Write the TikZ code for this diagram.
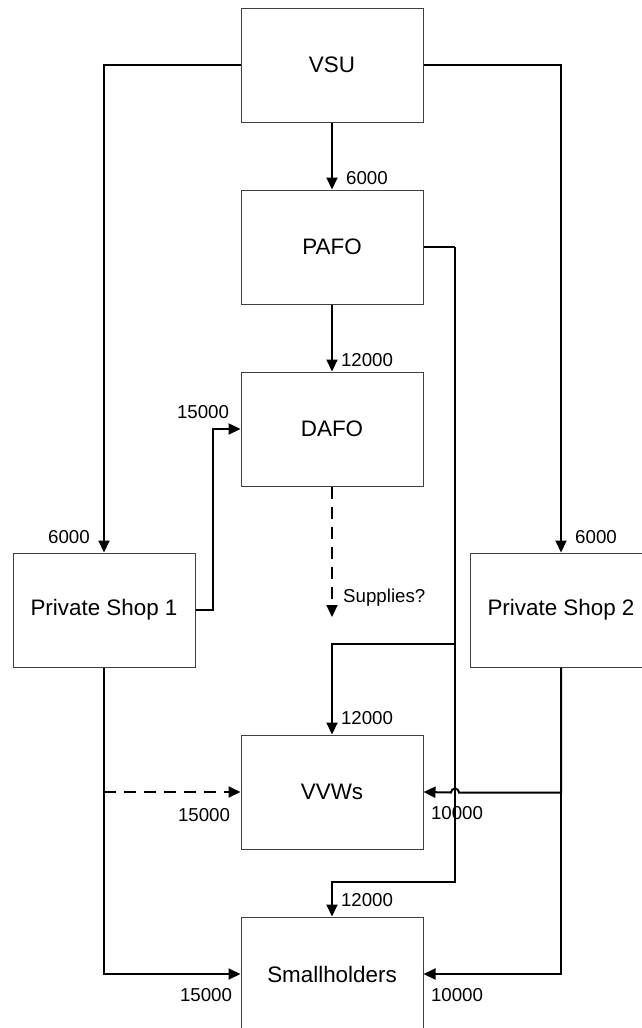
\documentclass[tikz,border=0pt]{standalone}
\usepackage{fontspec}
\setmainfont{Liberation Sans}
\usetikzlibrary{arrows.meta}
\begin{document}
\begin{tikzpicture}[x=1pt,y=-1pt,
  box/.style={draw=black!75,line width=1pt,minimum width=182pt,minimum height=114pt,inner sep=0pt,font=\fontsize{22.4}{26}\selectfont},
  conn/.style={line width=2pt,-{Triangle[length=12pt,width=11pt]}},
  plain/.style={line width=2pt},
  dashline/.style={line width=2pt,dash pattern=on 12pt off 8pt,-{Triangle[length=12pt,width=11pt]}},
  lbl/.style={inner sep=0pt,font=\fontsize{18.7}{22}\selectfont}]
\useasboundingbox (0,0) rectangle (641,1028);
\fill[white] (0,0) rectangle (641,1028);
% boxes
\node[box] (vsu) at (332,65) {VSU};
\node[box] (pafo) at (332,247) {PAFO};
\node[box] (dafo) at (332,429) {DAFO};
\node[box] (ps1) at (104,610) {Private Shop 1};
\node[box] (ps2) at (561,610) {Private Shop 2};
\node[box] (vvws) at (332,792) {VVWs};
\node[box] (small) at (332,974) {Smallholders};
\coordinate (sup) at (332,617);
\coordinate (trunk) at (455,247);
\coordinate (psone) at (104,792);
% connectors
\draw[conn] (vsu.west) -| (ps1.north);
\draw[conn] (vsu.east) -| (ps2.north);
\draw[conn] (vsu.south) -- (pafo.north);
\draw[conn] (pafo.south) -- (dafo.north);
\draw[conn] (ps1.east) -- ++(17,0) |- (dafo.west);
\draw[dashline] (dafo.south) -- (sup);
\draw[plain] (pafo.east) -- (trunk);
\draw[conn] (trunk) -- ++(0,397) -| (vvws.north);
\draw[conn] (trunk) -- ++(0,635) -| (small.north);
\draw[conn] (ps2.south) -- ++(0,125) -- ++(-102,0) arc[start angle=0,end angle=180,radius=4pt] -- (vvws.east);
\draw[conn] (ps2.south) |- (small.east);
\draw[conn] (ps1.south) |- (small.west);
\draw[dashline] (psone) -- (vvws.west);
% labels
\node[lbl] at (367,178) {6000};
\node[lbl] at (367,360) {12000};
\node[lbl,anchor=west] at (343,598) {Supplies?};
\node[lbl] at (69,537) {6000};
\node[lbl] at (596,537) {6000};
\node[lbl] at (203,412) {15000};
\node[lbl] at (367,718) {12000};
\node[lbl] at (367,900) {12000};
\node[lbl] at (204,815) {15000};
\node[lbl] at (206,995) {15000};
\node[lbl] at (457,813) {10000};
\node[lbl] at (457,995) {10000};
\end{tikzpicture}
\end{document}
